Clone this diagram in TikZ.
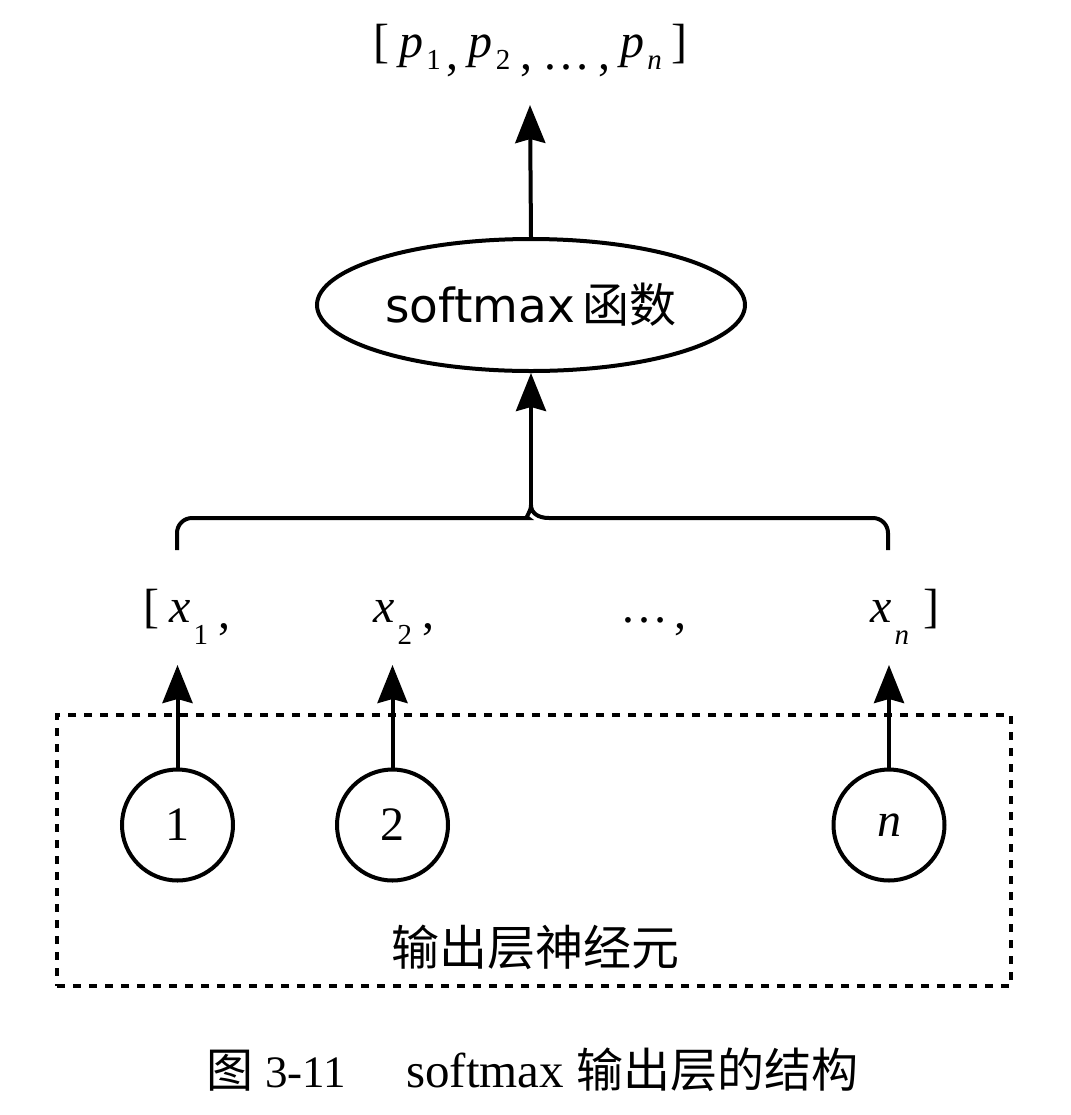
\documentclass[tikz,border=0pt]{standalone}
\usepackage{fontspec}
\setmainfont{Liberation Serif}
\newfontfamily\cjk{Noto Sans CJK SC}
\newfontfamily\dejasans{DejaVu Sans}
\usetikzlibrary{arrows.meta,shapes.geometric}
\newcommand\subfont{\fontsize{14.5}{14.5}\selectfont}
\newcommand\vsA[2]{\textit{#1}\hspace{1.5pt}\raisebox{-6pt}{\subfont #2}}
\newcommand\vsB[2]{\textit{#1}\hspace{1.5pt}\raisebox{-11pt}{\subfont #2}}
\newcommand\lowA[1]{\raisebox{-6pt}{#1}}
\newcommand\lowB[1]{\raisebox{-3pt}{#1}}
\begin{document}
\begin{tikzpicture}[x=0.5pt,y=-0.5pt,
  ln/.style={line width=2pt},
  arr/.style={ln,-{Stealth[length=19pt,width=15pt,inset=2pt]}},
  neuron/.style={circle,draw,line width=2pt,minimum size=55.5pt,inner sep=0pt,font=\fontsize{24}{28}\selectfont},
  lbl/.style={inner sep=0pt,font=\fontsize{24}{28}\selectfont},
  layerbox/.style={draw,line width=2pt,dash pattern=on 4pt off 4pt,minimum width=477pt,minimum height=135.5pt,inner sep=0pt},
  ]
\path[use as bounding box] (0,0) rectangle (1071,1115);

% output vector
\node[lbl,anchor=base west] (top) at (373,57) {[\hspace{5pt}\vsA{p}{1}\hspace{3pt}\lowA{,}\hspace{5pt}\vsA{p}{2}\hspace{5pt}\lowA{,}\hspace{5pt}\lowA{…}\hspace{4pt}\lowA{,}\hspace{5pt}\vsA{p}{\textit{n}}\hspace{5pt}]};
\coordinate (ptip) at (530,105);

% softmax ellipse
\node[ellipse,draw,line width=2pt,minimum width=214pt,minimum height=66pt,inner sep=0pt] (sm) at (531,305)
  {\fontsize{23.5}{28}\selectfont\dejasans softmax\hspace{4pt}\cjk 函数};

% brace
\coordinate (bt) at (531,505);
\draw[ln] (177,550) [rounded corners=7.5pt] -- (177,518) -- (513,518) [sharp corners]
  .. controls (524,518) and (531,513) .. (bt)
  .. controls (531,513) and (538,518) .. (549,518) [rounded corners=7.5pt] -- (888,518) -- (888,550);

% inputs row
\node[lbl,anchor=base west] (x1) at (143,622) {[\hspace{5pt}\vsB{x}{1}\hspace{5pt}\lowB{,}};
\node[lbl,anchor=base west] (x2) at (373,622) {\vsB{x}{2}\hspace{5pt}\lowB{,}};
\node[lbl,anchor=base west] (xd) at (620,622) {…\hspace{3pt}\lowB{,}};
\node[lbl,anchor=base west] (xn) at (870,622) {\vsB{x}{\textit{n}}\hspace{7pt}]};

% layer box
\node[layerbox] (layer) at (534,850.5) {};
\node[inner sep=0pt,font=\fontsize{24}{28}\selectfont\cjk] (lname) at (535,947) {输出层神经元};

% neurons
\node[neuron] (c1) at (177.5,825) {1};
\node[neuron] (c2) at (392.5,825) {2};
\node[neuron] (cn) at (889,825) {\textit{n}};
\coordinate (a1) at (177.5,665);
\coordinate (a2) at (392.5,665);
\coordinate (an) at (889,665);

% connectors
\draw[arr] (c1.north) -- (a1);
\draw[arr] (c2.north) -- (a2);
\draw[arr] (cn.north) -- (an);
\draw[arr] (bt) -- (sm.south);
\draw[arr] (sm.north) -- (ptip);

% caption
\node[inner sep=0pt,anchor=base west] (cap) at (206,1087)
  {{\fontsize{23.5}{28}\selectfont\cjk 图}\hspace{6pt}{\fontsize{22.5}{26}\selectfont 3-11}\hspace{30pt}{\fontsize{24.5}{28}\selectfont softmax}\hspace{6pt}{\fontsize{23.5}{28}\selectfont\cjk 输出层的结构}};
\end{tikzpicture}
\end{document}
